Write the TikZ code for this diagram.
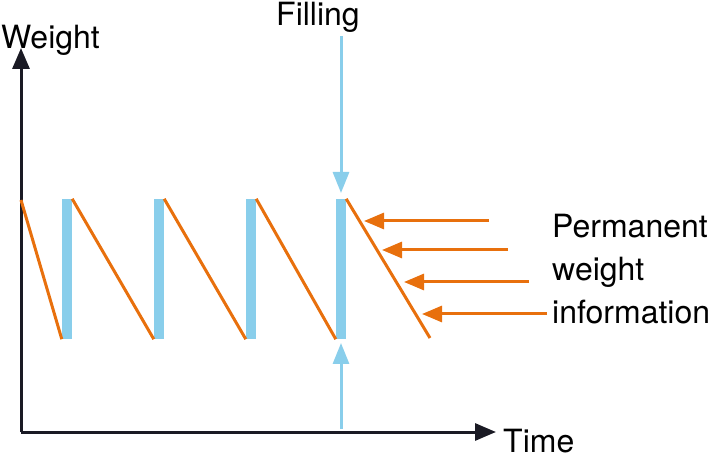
\documentclass[tikz,border=0pt]{standalone}
\usepackage{fontspec}
\setmainfont{TeX Gyre Heros}
\usetikzlibrary{arrows.meta}
\definecolor{fillblue}{RGB}{137,206,235}
\definecolor{wtorange}{RGB}{232,112,13}
\definecolor{axisblack}{RGB}{26,26,36}
\tikzset{
  lbl/.style={inner sep=0pt, anchor=base west, font=\fontsize{32}{43}\selectfont, text=black},
  axis/.style={draw=axisblack, line width=3pt, -{Triangle[length=21pt,width=17pt]}},
  bar/.style={fill=fillblue, draw=none, inner sep=0pt, minimum width=10pt, minimum height=140pt},
  ramp/.style={draw=wtorange, line width=3pt},
  info/.style={draw=wtorange, line width=3pt, -{Triangle[length=20pt,width=16pt]}},
  fillarrow/.style={draw=fillblue, line width=3pt, -{Triangle[length=21pt,width=16pt]}},
}
\begin{document}
\begin{tikzpicture}[x=1pt,y=-1pt]
\useasboundingbox (0,0) rectangle (713,457);
% axes
\coordinate (O) at (21,432);
\coordinate (ytip) at (21,48);
\coordinate (xtip) at (496,432);
\draw[axis] (O) -- (ytip);
\draw[axis] (O) -- (xtip);
\node[lbl] (weight) at (1,49) {Weight};
\node[lbl] (time) at (503,452) {Time};
% filling bars
\node[bar] (b1) at (67,269) {};
\node[bar] (b2) at (159,269) {};
\node[bar] (b3) at (251,269) {};
\node[bar] (b4) at (341,269) {};
% ramps
\coordinate (s0) at (21,200);
\coordinate (e5) at (430,338);
\draw[ramp] (s0) -- (b1.south west);
\draw[ramp] (b1.north east) -- (b2.south west);
\draw[ramp] (b2.north east) -- (b3.south west);
\draw[ramp] (b3.north east) -- (b4.south west);
\draw[ramp] (b4.north east) -- (e5);
% filling arrows
\node[lbl] (filling) at (276,26) {Filling};
\coordinate (ftop) at (341,36);
\coordinate (ftopTip) at (341,193);
\coordinate (fbot) at (341,429);
\coordinate (fbotTip) at (341,343);
\draw[fillarrow] (ftop) -- (ftopTip);
\draw[fillarrow] (fbot) -- (fbotTip);
% permanent weight information
\node[lbl] (p1) at (552,238) {Permanent};
\node[lbl] (p2) at (552,281) {weight};
\node[lbl] (p3) at (552,324) {information};
\coordinate (t1) at (489,221); \coordinate (h1) at (364,221);
\coordinate (t2) at (508,250); \coordinate (h2) at (382,250);
\coordinate (t3) at (529,282); \coordinate (h3) at (404,282);
\coordinate (t4) at (547,314); \coordinate (h4) at (422,314);
\draw[info] (t1) -- (h1);
\draw[info] (t2) -- (h2);
\draw[info] (t3) -- (h3);
\draw[info] (t4) -- (h4);
\end{tikzpicture}
\end{document}
